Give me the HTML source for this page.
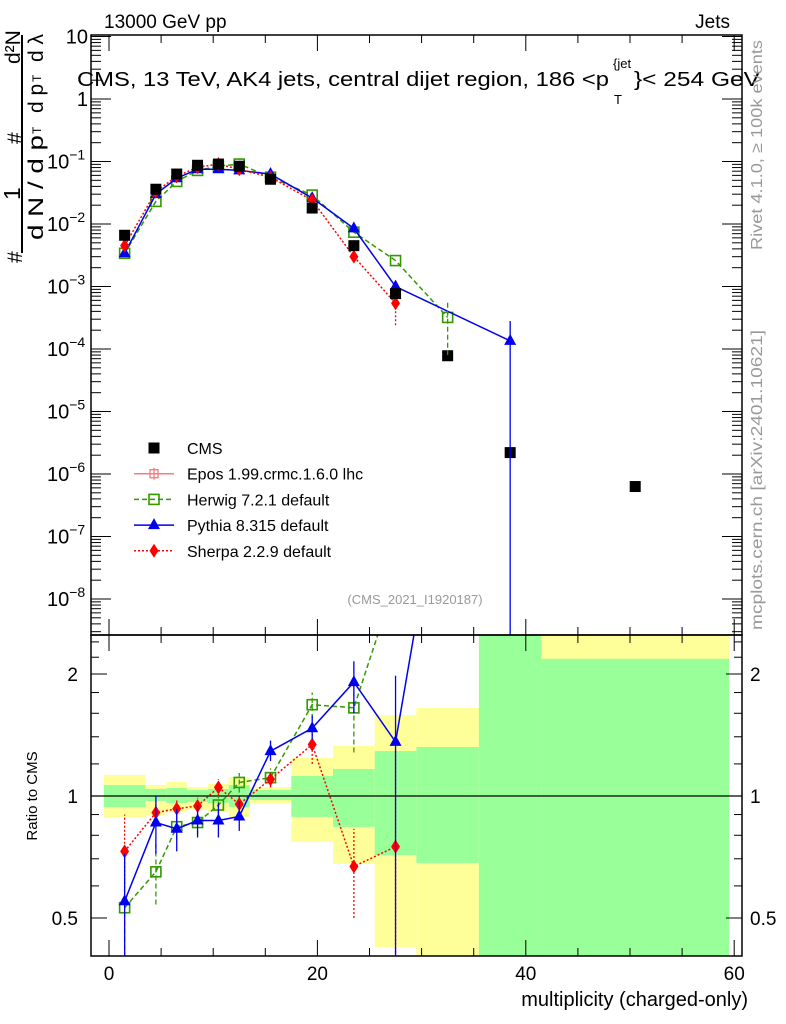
<!DOCTYPE html>
<html><head><meta charset="utf-8"><style>
body{margin:0;background:#fff}
svg{display:block;font-family:"Liberation Sans",sans-serif}
</style></head><body>
<svg id="c" width="786" height="1024" viewBox="0 0 786 1024" xmlns="http://www.w3.org/2000/svg">
<defs>
<clipPath id="cm"><rect x="91" y="35" width="651" height="600"/></clipPath>
<clipPath id="cr"><rect x="91" y="635" width="651" height="321"/></clipPath>
</defs>
<g id="bands" clip-path="url(#cr)"></g>
<g id="main"></g>
<g id="ratio"></g>
<g id="axes"></g>
<text x="104" y="28" font-size="19">13000 GeV pp</text>
<text x="730" y="28" font-size="19" text-anchor="end">Jets</text>
<g>
<text x="77" y="86" font-size="20" textLength="532" lengthAdjust="spacingAndGlyphs">CMS, 13 TeV, AK4 jets, central dijet region, 186 &lt;p</text>
<text x="613" y="68" font-size="13">{jet</text>
<text x="614" y="104" font-size="13">T</text>
<text x="634" y="86" font-size="20" textLength="126" lengthAdjust="spacingAndGlyphs">}&lt; 254 GeV</text>
</g>
<text transform="translate(762,250) rotate(-90)" font-size="16" fill="#999" textLength="210" lengthAdjust="spacingAndGlyphs">Rivet 4.1.0, ≥ 100k events</text>
<text transform="translate(762,630) rotate(-90)" font-size="16" fill="#999" textLength="300" lengthAdjust="spacingAndGlyphs">mcplots.cern.ch [arXiv:2401.10621]</text>
<text x="415" y="604" font-size="13" fill="#999" text-anchor="middle">(CMS_2021_I1920187)</text>
<g font-size="21">
<text transform="translate(22,263) rotate(-90)">#</text>
<text transform="translate(20,200) rotate(-90)" font-size="23">1</text>
<text transform="translate(22,144) rotate(-90)">#</text>
<text transform="translate(20,64) rotate(-90)">d²N</text>
<line x1="22" y1="35" x2="22" y2="253" stroke="#000" stroke-width="2"/>
<text transform="translate(43,240) rotate(-90)" textLength="105" lengthAdjust="spacingAndGlyphs">d N / d p</text>
<text transform="translate(41,134) rotate(-90)" font-size="12">T</text>
<text transform="translate(43,113) rotate(-90)">d p</text>
<text transform="translate(41,82) rotate(-90)" font-size="12">T</text>
<text transform="translate(43,62) rotate(-90)">d λ</text>
</g>
<text transform="translate(37,796) rotate(-90)" font-size="15" text-anchor="middle">Ratio to CMS</text>
<text x="748" y="1006" font-size="20" text-anchor="end">multiplicity (charged-only)</text>
<g id="legend"></g>
</svg>
<script>
const centers=[1.5,4.5,6.5,8.5,10.5,12.5,15.5,19.5,23.5,27.5,32.5,38.5,50.5];
const pythiaX=[1.5,4.5,6.5,8.5,10.5,12.5,15.5,19.5,23.5,27.5,38.5];
const cmsVals=[6.6e-3,3.6e-2,0.063,0.087,0.091,0.084,0.052,0.018,4.5e-3,7.7e-4,7.8e-5,2.2e-6,6.3e-7];
const herwigVals=[3.4e-3,0.023,0.048,0.072,0.084,0.091,0.056,0.029,7.4e-3,2.6e-3,3.2e-4];
const pythiaVals=[3.4e-3,0.030,0.054,0.075,0.075,0.072,0.063,0.026,8.5e-3,1.0e-3,1.35e-4];
const sherpaVals=[4.5e-3,0.033,0.058,0.081,0.091,0.075,0.056,0.024,3.0e-3,5.4e-4];
const herwigRatio=[0.53,0.65,0.84,0.86,0.95,1.08,1.11,1.68,1.65,3.4,4.2];
const pythiaRatio=[0.55,0.86,0.83,0.87,0.87,0.89,1.29,1.47,1.91,1.36,60];
const sherpaRatio=[0.73,0.91,0.93,0.945,1.05,0.955,1.10,1.34,0.67,0.75];
const pythiaRatioLo=[0.37,0.72,0.73,0.79,0.79,0.82,1.22,1.38,1.6,0.35,60];
const pythiaRatioHi=[0.72,1.0,0.93,0.95,0.96,0.97,1.37,1.58,2.15,1.98,60];
const herwigRatioLo=[0.4,0.54,0.78,0.8,0.9,1.02,1.06,1.55,1.28,3.4,4.2];
const herwigRatioHi=[0.53,0.78,0.9,0.92,1.0,1.14,1.17,1.8,2.0,3.4,4.2];
const sherpaRatioLo=[0.53,0.86,0.88,0.9,1.0,0.9,1.05,1.2,0.5,0.35];
const sherpaRatioHi=[0.9,0.97,0.98,0.99,1.1,1.0,1.15,1.43,0.83,1.3];
const binEdges=[-0.5,3.5,5.5,7.5,9.5,11.5,13.5,17.5,21.5,25.5,29.5,35.5,41.5,59.5];
const yellowLo=[0.883,0.898,0.913,0.924,0.913,0.888,0.961,0.77,0.68,0.424,0.3,0.3,0.3];
const yellowHi=[1.127,1.064,1.083,1.052,1.071,1.114,1.052,1.241,1.329,1.584,1.649,3,3];
const greenLo=[0.939,0.972,0.961,0.966,0.961,0.939,0.977,0.888,0.839,0.715,0.683,0.3,0.3];
const greenHi=[1.064,1.041,1.046,1.035,1.041,1.064,1.035,1.12,1.166,1.291,1.321,3,2.18];
const mainTicks=[1,0,-1,-2,-3,-4,-5,-6,-7,-8];
const xTicks=[0,20,40,60];
const ratioTicks=[2,1,0.5];

const NS="http://www.w3.org/2000/svg";
const X=v=>109+v*10.42;
const YM=v=>99-62.5*Math.log10(v);
const YR=r=>796-122*Math.log2(r);
const FL=91,FR=742,FT=35,FM=635,FB=956;
function mk(parent,tag,attrs){const e=document.createElementNS(NS,tag);for(const k in attrs)e.setAttribute(k,attrs[k]);parent.appendChild(e);return e;}
const bands=document.getElementById('bands'),main=document.getElementById('main'),ratio=document.getElementById('ratio'),axes=document.getElementById('axes'),legend=document.getElementById('legend');

for(let i=0;i<binEdges.length-1;i++){
  const x1=X(binEdges[i]),x2=X(binEdges[i+1]);
  let r=mk(bands,'rect',{x:x1,y:YR(yellowHi[i]),width:x2-x1,height:YR(yellowLo[i])-YR(yellowHi[i]),fill:'#ffff99'});
  
  
  r=mk(bands,'rect',{x:x1,y:YR(greenHi[i]),width:x2-x1,height:YR(greenLo[i])-YR(greenHi[i]),fill:'#99ff99'});
  
  
}
mk(ratio,'line',{x1:FL,x2:FR,y1:YR(1),y2:YR(1),stroke:'#000','stroke-width':1.3});

function marker(g,type,x,y,col){
  let e;
  if(type==='sq') e=mk(g,'rect',{x:x-5.5,y:y-5.5,width:11,height:11,fill:'#000'});
  else if(type==='osq') e=mk(g,'rect',{x:x-5,y:y-5,width:10,height:10,fill:'none',stroke:col,'stroke-width':1.6});
  else if(type==='tri') e=mk(g,'path',{d:`M${x},${y-7}L${x+6},${y+4}L${x-6},${y+4}Z`,fill:col});
  else if(type==='dia') e=mk(g,'path',{d:`M${x},${y-7}L${x+4.5},${y}L${x},${y+7}L${x-4.5},${y}Z`,fill:col});
  else if(type==='cross') e=mk(g,'path',{d:`M${x-4},${y-4}h8v8h-8zM${x-6},${y}h12M${x},${y-6}v12`,fill:'none',stroke:col,'stroke-width':1.3});
  return e;
}
function series(parent,clip,xs,vals,fy,type,col,dash,name,lo,hi){
  const g=mk(parent,'g',{'clip-path':`url(#${clip})`});
  
  
  if(col!=='#000'){
    const pts=vals.map((v,i)=>X(xs[i])+','+fy(v)).join(' ');
    mk(g,'polyline',{points:pts,fill:'none',stroke:col,'stroke-width':1.5,'stroke-dasharray':dash});
  }
  vals.forEach((v,i)=>{
    if(lo&&hi){mk(g,'line',{x1:X(xs[i]),x2:X(xs[i]),y1:fy(lo[i]),y2:fy(hi[i]),stroke:col,'stroke-width':1.3,'stroke-dasharray':dash});}
    const m=marker(g,type,X(xs[i]),fy(v),col);
    
    
  });
}
series(main,'cm',centers,herwigVals,YM,'osq','#339900','5,3','herwig-main');
series(main,'cm',pythiaX,pythiaVals,YM,'tri','#0000ee','','pythia-main');
series(main,'cm',centers,sherpaVals,YM,'dia','#ff0000','2,2','sherpa-main');
series(main,'cm',centers,cmsVals,YM,'sq','#000','','cms-data');
mk(main,'line',{x1:X(38.5),x2:X(38.5),y1:YM(2.8e-4),y2:FM,stroke:'#0000ee','stroke-width':1.3});
mk(main,'line',{x1:X(32.5),x2:X(32.5),y1:YM(5.5e-4),y2:YM(8e-5),stroke:'#339900','stroke-width':1.3,'stroke-dasharray':'5,3'});
mk(main,'line',{x1:X(27.5),x2:X(27.5),y1:YM(5.4e-4),y2:YM(2.3e-4),stroke:'#ff0000','stroke-width':1.3,'stroke-dasharray':'2,2'});

series(ratio,'cr',centers,herwigRatio,YR,'osq','#339900','5,3','herwig-ratio',herwigRatioLo,herwigRatioHi);
series(ratio,'cr',centers,sherpaRatio,YR,'dia','#ff0000','2,2','sherpa-ratio',sherpaRatioLo,sherpaRatioHi);
series(ratio,'cr',pythiaX,pythiaRatio,YR,'tri','#0000ee','','pythia-ratio',pythiaRatioLo,pythiaRatioHi);

mk(axes,'rect',{x:FL,y:FT,width:FR-FL,height:FM-FT,fill:'none',stroke:'#000','stroke-width':1.5});
mk(axes,'rect',{x:FL,y:FM,width:FR-FL,height:FB-FM,fill:'none',stroke:'#000','stroke-width':1.5});
for(let v=0;v<=60;v+=5){
  const big=v%20===0;const L=big?16:8;
  [[FB,-1],[FM,1],[FM,-1],[FT,1]].forEach(([y,d])=>mk(axes,'line',{x1:X(v),x2:X(v),y1:y,y2:y+d*L,stroke:'#000'}));
}
xTicks.forEach(v=>{const t=mk(axes,'text',{x:X(v),y:980,'font-size':19,'text-anchor':'middle'});t.textContent=v;

});
for(let e=-9;e<=1;e++){for(let m=1;m<10;m++){const v=m*Math.pow(10,e);const y=YM(v);if(y<FT-1||y>FM)continue;const L=m===1?20:10;
mk(axes,'line',{x1:FL,x2:FL+L,y1:y,y2:y,stroke:'#000'});mk(axes,'line',{x1:FR,x2:FR-L,y1:y,y2:y,stroke:'#000'});}}
mainTicks.forEach(e=>{const y=YM(Math.pow(10,e));
let t;
if(e===1){t=mk(axes,'text',{x:88,y:y+7,'font-size':20,'text-anchor':'end'});t.textContent='10';}
else if(e===0){t=mk(axes,'text',{x:88,y:y+7,'font-size':20,'text-anchor':'end'});t.textContent='1';}
else{t=mk(axes,'text',{x:47,y:y+7,'font-size':20});t.textContent='10';const s=mk(t,'tspan',{dy:-9,'font-size':14});s.textContent='−'+(-e);}

});
[0.5,0.6,0.7,0.8,0.9,1,1.2,1.4,1.6,1.8,2,2.2,2.4].forEach(r=>{const y=YR(r);const L=(r===0.5||r===1||r===2)?16:8;
mk(axes,'line',{x1:FL,x2:FL+L,y1:y,y2:y,stroke:'#000'});mk(axes,'line',{x1:FR,x2:FR-L,y1:y,y2:y,stroke:'#000'});});
ratioTicks.forEach(r=>{[[78,'end'],[750,'start']].forEach(([x,a])=>{const t=mk(axes,'text',{x:x,y:YR(r)+7,'font-size':19,'text-anchor':a});t.textContent=r;

});});
const legNames=['CMS','Epos 1.99.crmc.1.6.0 lhc','Herwig 7.2.1 default','Pythia 8.315 default','Sherpa 2.2.9 default'];
const legTypes=['sq','cross','osq','tri','dia'];
const legCols=['#000','#f08080','#339900','#0000ee','#ff0000'];
const legDash=['','','5,3','','2,2'];
legNames.forEach((n,i)=>{const y=448+i*25.7;const g=mk(legend,'g',{});


if(i>0)mk(g,'line',{x1:134,x2:174,y1:y,y2:y,stroke:legCols[i],'stroke-width':1.5,'stroke-dasharray':legDash[i]});
marker(g,legTypes[i],154,y,legCols[i]);
const t=mk(g,'text',{x:187,y:y+6,'font-size':16});t.textContent=n;});
</script>
</body></html>
